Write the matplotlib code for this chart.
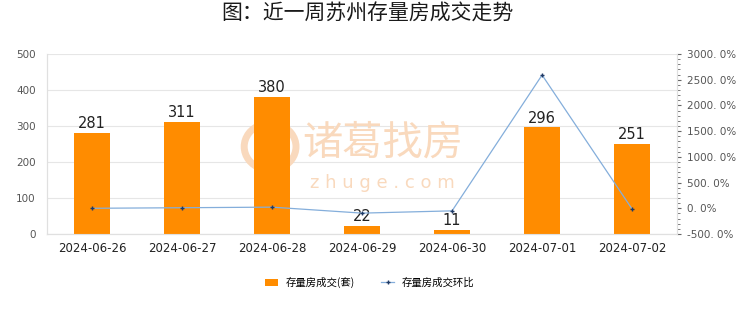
import numpy as np
import matplotlib as mpl
import matplotlib.pyplot as plt
import matplotlib.ticker as mticker
from matplotlib.patches import Arc, Ellipse

plt.rcParams['font.family'] = ['Noto Sans CJK SC', 'DejaVu Sans']

### Data
dates = ['2024-06-26', '2024-06-27', '2024-06-28', '2024-06-29',
         '2024-06-30', '2024-07-01', '2024-07-02']
deals = [281, 311, 380, 22, 11, 296, 251]
ratio = [0.0, 10.7, 22.2, -94.2, -50.0, 2590.9, -15.2]

### Figure
fig = plt.figure(figsize=(7.4, 3.12), dpi=100)
ax = fig.add_axes([0.0635, 0.25, 0.8515, 0.577])
ax2 = ax.twinx()

x = np.arange(len(dates))

### Watermark (under the bars)
wm = '#f9d9bd'
ax.text(0.517, 0.542, '诸葛找房', transform=fig.transFigure, ha='center', va='center',
        fontsize=29, color=wm, zorder=1)
ax.text(0.517, 0.415, 'z h u g e . c o m', transform=fig.transFigure, ha='center',
        va='center', fontsize=13, color=wm, family=['DejaVu Sans'], zorder=1)
for ang in (100, -80):
    ax.add_patch(Arc((0.365, 0.53), 0.07, 0.15, theta1=ang, theta2=ang + 160,
                     transform=fig.transFigure, color=wm, linewidth=5, zorder=1))
ax.add_patch(Ellipse((0.365, 0.53), 0.022, 0.09, transform=fig.transFigure,
                     color=wm, zorder=1))

### Bars
ax.bar(x, deals, width=0.4, color='#ff8c00', zorder=3, label='存量房成交(套)')
for xi, v in zip(x, deals):
    ax.text(xi, v + 5, str(v), ha='center', va='bottom', fontsize=10.5,
            color='#222222', family=['DejaVu Sans'], zorder=4)

ax.set_ylim(0, 500)
ax.set_yticks(range(0, 501, 100))
ax.set_xlim(-0.5, len(dates) - 0.5)
ax.set_xticks(x)
ax.set_xticklabels(dates, fontsize=8.5, color='#222222', family=['DejaVu Sans'])
ax.tick_params(axis='x', length=0, pad=6)
ax.tick_params(axis='y', length=0, labelsize=7.5, labelcolor='#555555', pad=8)
for lab in ax.get_yticklabels():
    lab.set_family(['DejaVu Sans'])
ax.grid(axis='y', color='#e6e6e6', linewidth=0.8, zorder=0)
ax.set_axisbelow(True)

### Line (right axis)
ax2.plot(x, ratio, color='#84aedb', linewidth=0.9, marker='+', markersize=3,
         markeredgecolor='#1f3a66', markeredgewidth=1.0, zorder=5,
         label='存量房成交环比')
ax2.set_ylim(-500, 3000)
ax2.set_yticks(range(-500, 3001, 500))
ax2.yaxis.set_major_formatter(mticker.FuncFormatter(lambda v, p: f'{v:.1f}%'.replace('.', '. ')))
ax2.yaxis.set_minor_locator(mticker.MultipleLocator(100))
ax2.tick_params(axis='y', which='major', length=3, color='#666666', labelsize=7.5,
                labelcolor='#555555', pad=4)
ax2.tick_params(axis='y', which='minor', length=2, color='#666666')
for lab in ax2.get_yticklabels():
    lab.set_family(['DejaVu Sans'])

for a in (ax, ax2):
    for s in a.spines.values():
        s.set_color('#e0e0e0')
        s.set_linewidth(0.8)
    a.spines['top'].set_visible(False)

### Legend
h1, l1 = ax.get_legend_handles_labels()
h2, l2 = ax2.get_legend_handles_labels()
fig.legend(h1 + h2, l1 + l2, loc='center', bbox_to_anchor=(0.5, 0.095), ncol=2,
           frameon=False, fontsize=7.5, handlelength=1.2, handleheight=0.7,
           columnspacing=2.5)

### Title
fig.suptitle('图：近一周苏州存量房成交走势', x=0.497, y=0.99, fontsize=15,
             fontweight='medium', color='#1a1a1a')

plt.savefig('out.png', dpi=100)
